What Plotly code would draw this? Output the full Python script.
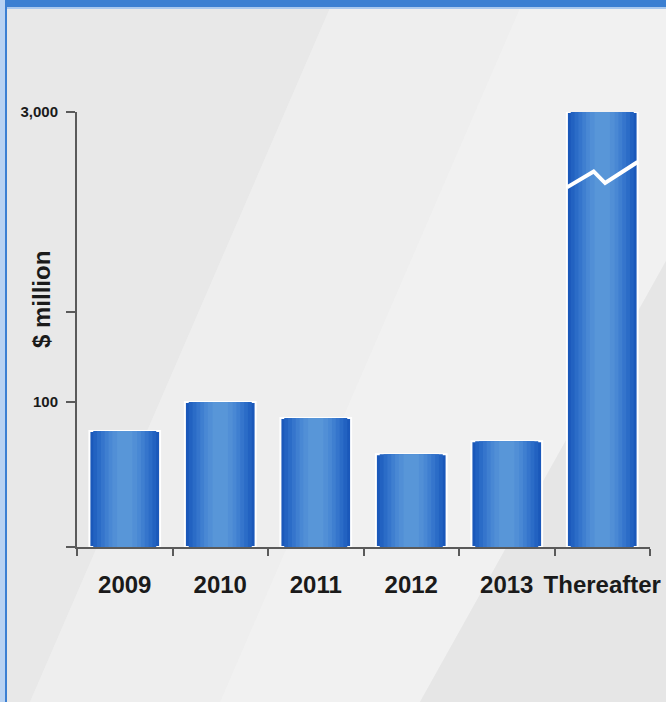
import numpy as np
import plotly.graph_objects as go

categories = ["2009", "2010", "2011", "2012", "2013", "Thereafter"]
values = [80, 100, 89, 64, 73, 3000]  # $ million
y_tick_values = [0, 100, 1000, 3000]
y_tick_labels = ["", "100", "", "3,000"]

# broken axis: real values -> axis positions
AXIS_REAL = [0, 100, 3000]
AXIS_POS = [0, 100, 300]
def to_axis(v):
    return float(np.interp(v, AXIS_REAL, AXIS_POS))

x = list(range(len(categories)))
y_axis = [to_axis(v) for v in values]

W, H = 666, 702
L, R, T, B = 77, 16, 112, 155
PW, PH = W - L - R, H - T - B

def px(xp):
    return (xp - L) / PW
def py(yp):
    return (H - B - yp) / PH

fig = go.Figure()

# gradient-like bars via overlaid narrowing layers
layers = [
    (0.74, "#1a58ba"),
    (0.66, "#2262c1"),
    (0.58, "#2b6cc7"),
    (0.50, "#3575cc"),
    (0.42, "#3f7fd0"),
    (0.34, "#4988d4"),
    (0.26, "#518fd6"),
    (0.16, "#5896d8"),
]
for i, (w, c) in enumerate(layers):
    fig.add_trace(go.Bar(
        x=x, y=y_axis, width=w,
        marker=dict(color=c, line=dict(color="white" if i == 0 else c, width=2 if i == 0 else 0)),
        hoverinfo="skip", showlegend=False,
    ))

# axis break mark on the last bar
bx = x[-1]
fig.add_trace(go.Scatter(
    x=[bx - 0.37, bx - 0.09, bx + 0.03, bx + 0.37],
    y=[248, 259, 251, 265.5],
    mode="lines", line=dict(color="white", width=4),
    hoverinfo="skip", showlegend=False,
))

shapes = []
# background diagonal bands
bands = [
    ([(-20, 8), (330, 8), (30, 702), (-20, 702)], "#e8e8e8"),
    ([(330, 8), (520, 8), (220, 702), (30, 702)], "#eeeeee"),
    ([(520, 8), (700, 8), (700, 200), (420, 702), (220, 702)], "#f1f1f1"),
    ([(700, 200), (700, 702), (420, 702)], "#e6e6e6"),
]
for pts, col in bands:
    path = "M " + " L ".join(f"{px(a):.4f},{py(b):.4f}" for a, b in pts) + " Z"
    shapes.append(dict(type="path", xref="paper", yref="paper", path=path,
                       fillcolor=col, line=dict(width=0), layer="below"))
# frame: top blue band and left blue edge
shapes.append(dict(type="rect", xref="paper", yref="paper", x0=px(0), x1=px(W), y0=py(7), y1=py(0),
                   fillcolor="#3b7fd2", line=dict(width=0), layer="above"))
shapes.append(dict(type="rect", xref="paper", yref="paper", x0=px(0), x1=px(W), y0=py(9), y1=py(7),
                   fillcolor="#a9c8ee", line=dict(width=0), layer="above"))
shapes.append(dict(type="rect", xref="paper", yref="paper", x0=px(0), x1=px(5), y0=py(H), y1=py(0),
                   fillcolor="#b8d2f2", line=dict(width=0), layer="above"))
shapes.append(dict(type="rect", xref="paper", yref="paper", x0=px(5), x1=px(7), y0=py(H), y1=py(0),
                   fillcolor="#3b7fd2", line=dict(width=0), layer="above"))

fig.update_layout(
    width=W, height=H,
    margin=dict(l=L, r=R, t=T, b=B, autoexpand=False),
    paper_bgcolor="#ececec",
    plot_bgcolor="rgba(0,0,0,0)",
    barmode="overlay",
    shapes=shapes,
    font=dict(family="Liberation Sans, Arial, sans-serif", color="#1a1a1a"),
    xaxis=dict(
        range=[-0.5, len(categories) - 0.5],
        tickvals=x, ticktext=[f"<b>{c}</b>" for c in categories],
        ticks="", ticklabelstandoff=15,
        tickfont=dict(size=24, color="#1a1a1a"),
        showgrid=False, zeroline=False, automargin=False,
        showline=True, linecolor="#5a5a5a", linewidth=2,
        minor=dict(tick0=0.5, dtick=1, ticks="outside", ticklen=7, tickwidth=1.5, tickcolor="#5a5a5a", showgrid=False),
        fixedrange=True,
    ),
    yaxis=dict(
        range=[0, 300],
        tickvals=[to_axis(v) for v in y_tick_values],
        ticktext=[f"<b>{t}</b>" for t in y_tick_labels],
        ticks="outside", ticklen=9, tickwidth=1.5, tickcolor="#5a5a5a",
        tickfont=dict(size=15, color="#1a1a1a"), ticklabelstandoff=5,
        showgrid=False, zeroline=False, automargin=False,
        showline=True, linecolor="#5a5a5a", linewidth=2,
        fixedrange=True,
    ),
    annotations=[dict(
        text="<b>$ million</b>", textangle=-90,
        xref="paper", yref="paper", x=px(41), y=py(300),
        showarrow=False, font=dict(size=24, color="#1a1a1a"),
        xanchor="center", yanchor="middle",
    )],
)

fig.write_html("out.html")
